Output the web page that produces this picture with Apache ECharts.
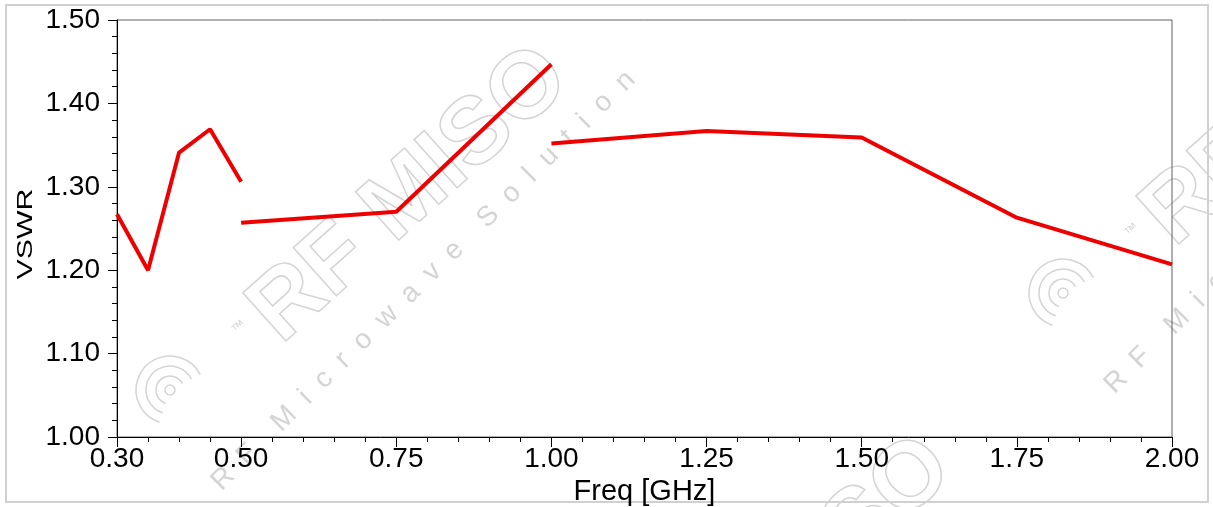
<!DOCTYPE html>
<html>
<head>
<meta charset="utf-8">
<script src="https://cdn.jsdelivr.net/npm/echarts@6/dist/echarts.min.js"></script>
<style>
html,body{margin:0;padding:0;background:#fff;}
#frame{position:absolute;left:5px;top:4px;width:1200px;height:495px;border:2px solid #d0d0d0;}
#chart{position:absolute;left:0;top:0;width:1213px;height:507px;}
</style>
</head>
<body>
<div id="frame"></div>
<div id="chart"></div>
<script>
// Data
const seg1 = [[0.30, 1.267], [0.35, 1.200], [0.40, 1.341], [0.45, 1.369], [0.50, 1.306]];
const seg2 = [[0.50, 1.257], [0.75, 1.270], [1.00, 1.447]];
const seg3 = [[1.00, 1.352], [1.25, 1.367], [1.50, 1.359], [1.75, 1.263], [2.00, 1.207]];
const xLabelValues = [0.30, 0.50, 0.75, 1.00, 1.25, 1.50, 1.75, 2.00];
const xMinorValues = [0.35, 0.40, 0.45, 0.55, 0.60, 0.65, 0.70, 0.80, 0.85, 0.90, 0.95,
  1.05, 1.10, 1.15, 1.20, 1.30, 1.35, 1.40, 1.45, 1.55, 1.60, 1.65, 1.70,
  1.80, 1.85, 1.90, 1.95];
const yMin = 1.00, yMax = 1.50, yStep = 0.10;
const xTitle = 'Freq [GHz]';
const yTitle = 'VSWR';

const chart = echarts.init(document.getElementById('chart'), null, {renderer: 'canvas'});
const font = 'Liberation Sans, Arial, sans-serif';
const wm = '#d4d4d4';
const lineStyle = {color: '#ee0000', width: 4};

function seg(d) {
  return {type: 'line', data: d, showSymbol: false, symbol: 'none', lineStyle: lineStyle, z: 5, animation: false};
}

// decorative watermark (one copy, repeated with offsets)
function watermark(dx, dy, withSub) {
  const els = [
    {type: 'text', x: 264 + dx, y: 326 + dy, rotation: 0.73, silent: true, z: -1,
      style: {text: 'RF MISO', font: 'bold 94px ' + font, fill: 'none', stroke: wm, lineWidth: 1.5, verticalAlign: 'middle'}},
    {type: 'text', x: 234 + dx, y: 332 + dy, rotation: 0.73, silent: true, z: -1,
      style: {text: '\u2122', font: '14px ' + font, fill: wm, verticalAlign: 'middle'}}
  ];
  if (withSub) {
    els.push({type: 'text', x: 216 + dx, y: 486 + dy, rotation: 0.78, silent: true, z: -1,
      style: {text: 'R  F    M  i  c  r  o  w  a  v  e    S  o  l  u  t  i  o  n', font: '28px ' + font, fill: wm, verticalAlign: 'middle'}});
  }
  [14, 24, 34].forEach(r => els.push({type: 'arc', silent: true, z: -1,
    shape: {cx: 170 + dx, cy: 390 + dy, r: r, startAngle: Math.PI * 0.6, endAngle: Math.PI * 1.85},
    style: {fill: 'none', stroke: wm, lineWidth: 1.5}}));
  els.push({type: 'circle', silent: true, z: -1, shape: {cx: 170 + dx, cy: 390 + dy, r: 5},
    style: {fill: 'none', stroke: wm, lineWidth: 1.5}});
  return els;
}

chart.setOption({
  animation: false,
  grid: {left: 117, right: 41, top: 20, bottom: 70, outerBoundsMode: 'none', containLabel: false,
    show: true, borderColor: '#606060', borderWidth: 1, backgroundColor: 'transparent'},
  graphic: [].concat(watermark(0, 0, true), watermark(893, -97, true), watermark(383, 390, false), [
    {type: 'text', x: 26, y: 234, rotation: Math.PI / 2, scaleX: 1.38, scaleY: 1, silent: true, z: 10,
      style: {text: yTitle, font: '22px ' + font, fill: '#000', align: 'center', verticalAlign: 'middle'}}
  ]),
  xAxis: [
    {
      type: 'value', min: 0.3, max: 2.0, position: 'bottom',
      name: xTitle, nameLocation: 'middle', nameGap: 38,
      nameTextStyle: {fontFamily: font, fontSize: 29, color: '#000'},
      axisLine: {show: true, onZero: false, lineStyle: {color: '#000', width: 1}},
      axisTick: {show: true, inside: false, length: 10, customValues: xLabelValues, lineStyle: {color: '#000'}},
      axisLabel: {show: true, customValues: xLabelValues, margin: 8, fontFamily: font, fontSize: 28, color: '#000',
        formatter: v => v.toFixed(2)},
      splitLine: {show: false}
    },
    {
      type: 'value', min: 0.3, max: 2.0, position: 'bottom',
      axisLine: {show: false, onZero: false},
      axisTick: {show: true, length: 5, customValues: xMinorValues, lineStyle: {color: '#000'}},
      axisLabel: {show: false},
      splitLine: {show: false}
    }
  ],
  yAxis: {
    type: 'value', min: yMin, max: yMax, interval: yStep,
    axisLine: {show: true, onZero: false, lineStyle: {color: '#000', width: 1}},
    axisTick: {show: true, length: 9, lineStyle: {color: '#000'}},
    minorTick: {show: true, splitNumber: 5, length: 5, lineStyle: {color: '#000'}},
    axisLabel: {margin: 17, fontFamily: font, fontSize: 28, color: '#000', formatter: v => v.toFixed(2)},
    splitLine: {show: false}
  },
  series: [seg(seg1), seg(seg2), seg(seg3)]
});
</script>
</body>
</html>
